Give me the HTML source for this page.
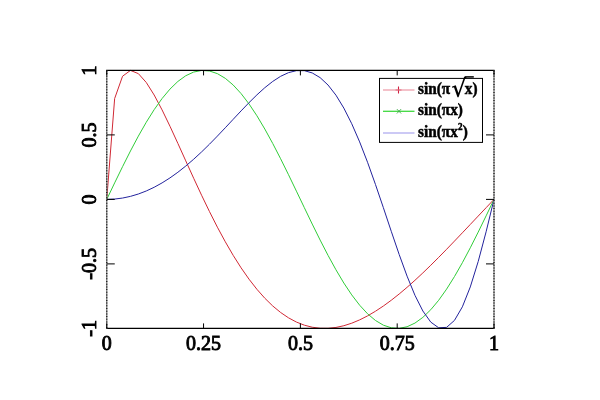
<!DOCTYPE html>
<html><head><meta charset="utf-8"><style>
html,body{margin:0;padding:0;background:#fff;width:600px;height:400px;overflow:hidden}
svg{display:block;will-change:transform}
.lab{font-family:"Liberation Serif",serif;font-weight:normal;font-size:20px;fill:#000;stroke:#000;stroke-width:0.9px}
.leg{font-family:"Liberation Serif",serif;font-weight:bold;font-size:15px;fill:#000;stroke:#000;stroke-width:0.45px}
</style></head><body>
<svg width="600" height="400" viewBox="0 0 600 400">
<g fill="none" stroke-width="1">
<path d="M106.75,199.40 L114.65,98.54 L122.56,76.22 L130.46,70.42 L138.36,73.63 L146.27,82.48 L154.17,95.00 L162.07,109.90 L169.97,126.26 L177.88,143.43 L185.78,160.89 L193.68,178.26 L201.59,195.24 L209.49,211.60 L217.39,227.16 L225.30,241.79 L233.20,255.37 L241.10,267.85 L249.01,279.16 L256.91,289.29 L264.81,298.21 L272.71,305.94 L280.62,312.47 L288.52,317.83 L296.42,322.05 L304.33,325.17 L312.23,327.22 L320.13,328.25 L328.04,328.31 L335.94,327.45 L343.84,325.73 L351.74,323.19 L359.65,319.89 L367.55,315.90 L375.45,311.25 L383.36,306.02 L391.26,300.26 L399.16,294.01 L407.07,287.33 L414.97,280.28 L422.87,272.91 L430.78,265.25 L438.68,257.37 L446.58,249.31 L454.48,241.10 L462.39,232.80 L470.29,224.44 L478.19,216.07 L486.10,207.71 L494.00,199.40" stroke="#d02834"/>
<path d="M106.75,199.40 L114.65,182.90 L122.56,166.68 L130.46,150.99 L138.36,136.10 L146.27,122.24 L154.17,109.66 L162.07,98.54 L169.97,89.09 L177.88,81.44 L185.78,75.73 L193.68,72.05 L201.59,70.47 L209.49,71.00 L217.39,73.63 L225.30,78.34 L233.20,85.03 L241.10,93.60 L249.01,103.90 L256.91,115.78 L264.81,129.03 L272.71,143.43 L280.62,158.75 L288.52,174.74 L296.42,191.13 L304.33,207.67 L312.23,224.06 L320.13,240.05 L328.04,255.37 L335.94,269.77 L343.84,283.02 L351.74,294.90 L359.65,305.20 L367.55,313.77 L375.45,320.46 L383.36,325.17 L391.26,327.80 L399.16,328.33 L407.07,326.75 L414.97,323.07 L422.87,317.36 L430.78,309.71 L438.68,300.26 L446.58,289.14 L454.48,276.56 L462.39,262.70 L470.29,247.81 L478.19,232.12 L486.10,215.90 L494.00,199.40" stroke="#30cc38"/>
<path d="M106.75,199.40 L114.65,199.06 L122.56,198.05 L130.46,196.36 L138.36,194.00 L146.27,190.97 L154.17,187.27 L162.07,182.90 L169.97,177.90 L177.88,172.26 L185.78,166.03 L193.68,159.23 L201.59,151.93 L209.49,144.19 L217.39,136.10 L225.30,127.76 L233.20,119.30 L241.10,110.88 L249.01,102.67 L256.91,94.87 L264.81,87.71 L272.71,81.44 L280.62,76.32 L288.52,72.64 L296.42,70.66 L304.33,70.67 L312.23,72.93 L320.13,77.65 L328.04,85.03 L335.94,95.17 L343.84,108.09 L351.74,123.74 L359.65,141.91 L367.55,162.29 L375.45,184.41 L383.36,207.67 L391.26,231.30 L399.16,254.46 L407.07,276.15 L414.97,295.35 L422.87,311.00 L430.78,322.12 L438.68,327.80 L446.58,327.37 L454.48,320.40 L462.39,306.82 L470.29,286.94 L478.19,261.52 L486.10,231.79 L494.00,199.40" stroke="#22229c"/>
</g>
<path d="M106.15,70.40 H494.60 M106.15,328.40 H494.60" stroke="#000" stroke-width="1.2" fill="none"/>
<path d="M106.75,70.40 V328.40 M494.00,70.40 V328.40" stroke="#828282" stroke-width="1.3" fill="none"/>
<path d="M106.75,70.40 V328.40 M494.00,70.40 V328.40" stroke="#1a1a1a" stroke-width="1.3" stroke-dasharray="1,1.7" fill="none"/>
<path d="M106.75,328.40 V323.40 M106.75,70.40 V75.40 M203.56,328.40 V323.40 M203.56,70.40 V75.40 M300.38,328.40 V323.40 M300.38,70.40 V75.40 M397.19,328.40 V323.40 M397.19,70.40 V75.40 M494.00,328.40 V323.40 M494.00,70.40 V75.40 M106.75,263.90 H114.75 M106.75,199.40 H114.75 M106.75,134.90 H114.75" stroke="#000" stroke-width="1" fill="none"/>
<path d="M494.00,263.90 H486.00 M494.00,199.40 H486.00 M494.00,134.90 H486.00" stroke="#000" stroke-width="1" fill="none"/>
<g class="lab"><text x="106.75" y="350" text-anchor="middle">0</text><text x="203.56" y="350" text-anchor="middle">0.25</text><text x="300.38" y="350" text-anchor="middle">0.5</text><text x="397.19" y="350" text-anchor="middle">0.75</text><text x="494.00" y="350" text-anchor="middle">1</text><text transform="translate(96,328.40) rotate(-90)" text-anchor="middle">-1</text><text transform="translate(96,263.90) rotate(-90)" text-anchor="middle">-0.5</text><text transform="translate(96,199.40) rotate(-90)" text-anchor="middle">0</text><text transform="translate(96,134.90) rotate(-90)" text-anchor="middle">0.5</text><text transform="translate(96,70.40) rotate(-90)" text-anchor="middle">1</text></g>
<rect x="379.5" y="78.4" width="103" height="64" fill="#fff" stroke="#000" stroke-width="1"/>
<g stroke-width="1.2">
<path d="M383,90 H414.5" stroke="#eea0ac" stroke-width="1.3"/>
<path d="M398.5,86.5 V93.5" stroke="#d02040" stroke-width="1.1"/><path d="M395.5,90 H401.5" stroke="#e07080" stroke-width="1.1"/>
<path d="M383,111.3 H414.5" stroke="#40d840" stroke-width="1.3"/>
<path d="M396.9,109.1 L401.1,113.5 M396.9,113.5 L401.1,109.1" stroke="#40a848" stroke-width="0.9"/>
<path d="M383,133 H414.5" stroke="#b0acf0" stroke-width="1.3"/>
</g>
<g class="leg">
<g transform="translate(418,93.7) scale(1.02,1.12)"><text x="0" y="0">sin(π</text></g>
<g transform="translate(464.8,93.7) scale(1.02,1.12)"><text x="0" y="0">x)</text></g>
<g transform="translate(418,114.6) scale(1.02,1.12)"><text x="0" y="0">sin(πx)</text></g>
<g transform="translate(418,136.6) scale(1.02,1.12)"><text x="0" y="0">sin(πx</text><text x="39.2" y="-6" font-size="9">2</text><text x="44" y="0">)</text></g>
</g>
<text transform="translate(451.17,96.72) scale(0.96,1)" font-family="DejaVu Serif" font-weight="bold" font-size="23.94" fill="#000">√</text>
<path d="M464.6,76.9 H473.8" fill="none" stroke="#000" stroke-width="1.5"/>
</svg>
</body></html>
